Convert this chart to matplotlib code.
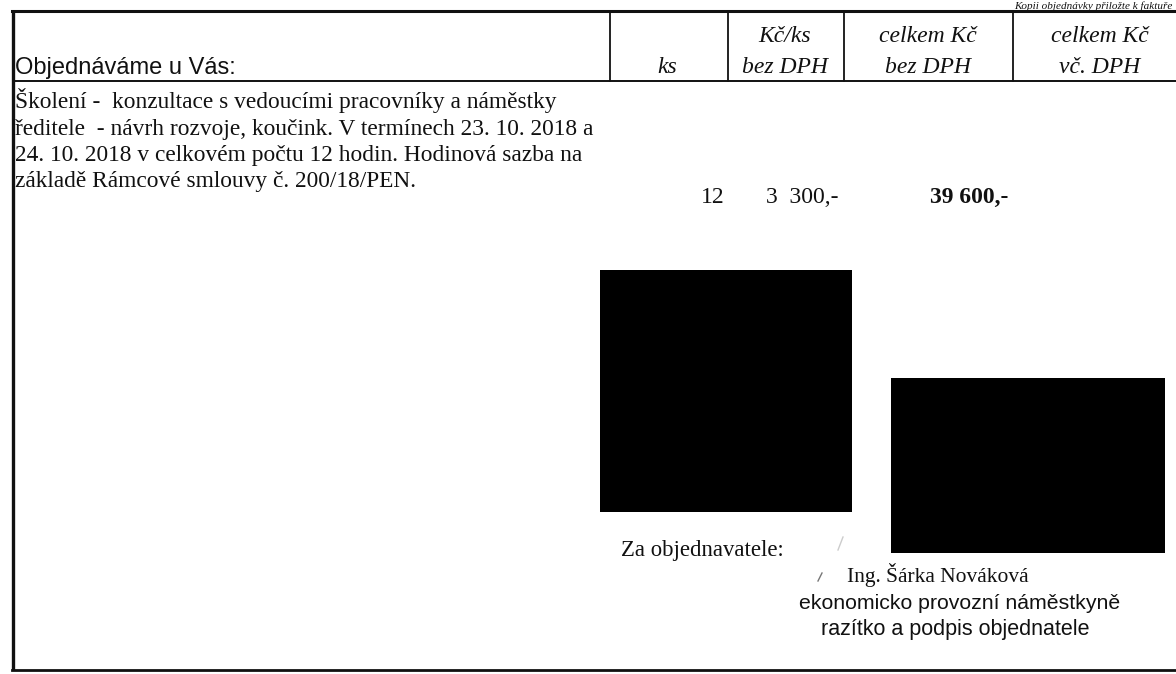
import matplotlib.pyplot as plt
from matplotlib.patches import Rectangle

# Header cells of the order table
header_main = 'Objednáváme u Vás:'
header_cols = ['ks', 'Kč/ks\nbez DPH', 'celkem Kč\nbez DPH', 'celkem Kč\nvč. DPH']

# Order item
item_lines = [
    'Školení -  konzultace s vedoucími pracovníky a náměstky',
    'ředitele  - návrh rozvoje, koučink. V termínech 23. 10. 2018 a',
    '24. 10. 2018 v celkovém počtu 12 hodin. Hodinová sazba na',
    'základě Rámcové smlouvy č. 200/18/PEN.',
]
item_qty = '12'
item_price = '3  300,-'
item_total = '39 600,-'

# Signature block
signer_label = 'Za objednavatele:'
signer_lines = ['Ing. Šárka Nováková',
                'ekonomicko provozní náměstkyně',
                'razítko a podpis objednatele']
top_note = 'Kopii objednávky přiložte k faktuře'

W, H = 1176, 674
fig = plt.figure(figsize=(W / 100, H / 100), dpi=100)
ax = fig.add_axes([0, 0, 1, 1])
ax.set_xlim(0, W)
ax.set_ylim(H, 0)
ax.axis('off')

serif = ['Liberation Serif', 'DejaVu Serif']
sans = ['Liberation Sans', 'DejaVu Sans']
ink = '#111111'

# table frame
ax.plot([12, W], [11, 11], color=ink, lw=2.2)
ax.plot([13, W], [81, 81], color=ink, lw=1.4)
ax.plot([12, W], [670, 670], color=ink, lw=2.0)
ax.plot([13, 13], [11, 670], color=ink, lw=2.4, solid_capstyle='butt')
col_x = [610, 728, 844, 1013]
for x in col_x:
    ax.plot([x, x], [11, 81], color=ink, lw=1.3)

# header text
ax.text(15, 74, header_main, family=sans, fontsize=17, color=ink,
        va='baseline', ha='left')
col_centers = [667, 785, 928, 1100]
for cx, label in zip(col_centers, header_cols):
    lines = label.split('\n')
    if len(lines) == 1:
        ax.text(cx, 73, lines[0], family=serif, style='italic', fontsize=17,
                color=ink, ha='center', va='baseline')
    else:
        ax.text(cx, 42, lines[0], family=serif, style='italic', fontsize=17,
                color=ink, ha='center', va='baseline')
        ax.text(cx, 73, lines[1], family=serif, style='italic', fontsize=17,
                color=ink, ha='center', va='baseline')

ax.text(1172, 9, top_note, family=serif, style='italic', fontsize=8,
        color=ink, ha='right', va='baseline')

# item rows
for i, line in enumerate(item_lines):
    ax.text(15, 108 + i * 26.5, line, family=serif, fontsize=16.8,
            color=ink, ha='left', va='baseline')
ax.text(713, 203, item_qty, family=serif, fontsize=17, color=ink,
        ha='center', va='baseline')
ax.text(838, 203, item_price, family=serif, fontsize=17, color=ink,
        ha='right', va='baseline')
ax.text(930, 203, item_total, family=serif, fontsize=17, weight='bold',
        color=ink, ha='left', va='baseline')

# redacted areas
ax.add_patch(Rectangle((600, 270), 252, 242, color='black', lw=0))
ax.add_patch(Rectangle((891, 378), 274, 175, color='black', lw=0))

# faint pen marks
ax.plot([838, 843], [550, 537], color='#cccccc', lw=1)
ax.plot([818, 822], [581, 573], color='#777777', lw=1)

# signature block
ax.text(621, 556, signer_label, family=serif, fontsize=16.4, color=ink,
        ha='left', va='baseline')
ax.text(938, 582, signer_lines[0], family=serif, fontsize=15.5, color=ink,
        ha='center', va='baseline')
ax.text(960, 609, signer_lines[1], family=sans, fontsize=15.3, color=ink,
        ha='center', va='baseline')
ax.text(955, 635, signer_lines[2], family=sans, fontsize=15.5, color=ink,
        ha='center', va='baseline')

fig.savefig('out.png', dpi=100)
